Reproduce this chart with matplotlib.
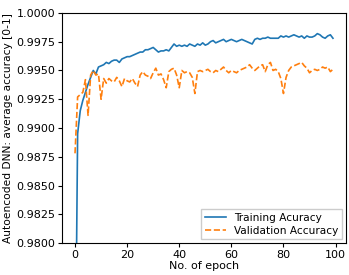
import matplotlib
matplotlib.use("Agg")
import matplotlib.pyplot as plt
import numpy as np

epochs = list(range(100))
train_acc = [0.965, 0.9895, 0.9915, 0.9924, 0.9931, 0.9938, 0.9944, 0.9950, 0.9947, 0.9953,
             0.9954, 0.9955, 0.9957, 0.9956, 0.9958, 0.9959, 0.9959, 0.9957, 0.9960, 0.9961,
             0.9962, 0.9962, 0.9963, 0.9964, 0.9965, 0.9966, 0.9966, 0.9968, 0.9968, 0.9969,
             0.9970, 0.9968, 0.9966, 0.9967, 0.9967, 0.9968, 0.9967, 0.9970, 0.9973, 0.9971,
             0.9972, 0.9971, 0.9972, 0.9971, 0.9973, 0.9972, 0.9971, 0.9973, 0.9972, 0.9974,
             0.9972, 0.9973, 0.9975, 0.9976, 0.9974, 0.9975, 0.9976, 0.9977, 0.9975, 0.9976,
             0.9977, 0.9976, 0.9975, 0.9976, 0.9977, 0.9976, 0.9975, 0.9974, 0.9973, 0.9977,
             0.9978, 0.9977, 0.9978, 0.9978, 0.9979, 0.9978, 0.9978, 0.9978, 0.9978, 0.9980,
             0.9979, 0.9980, 0.9979, 0.9980, 0.9981, 0.9980, 0.9979, 0.9980, 0.9978, 0.9980,
             0.9979, 0.9979, 0.9980, 0.9982, 0.9981, 0.9979, 0.9978, 0.9980, 0.9981, 0.9978]
val_acc = [0.9878, 0.9927, 0.9929, 0.9931, 0.9942, 0.9911, 0.9946, 0.9950, 0.9946, 0.9947,
           0.9925, 0.9943, 0.9939, 0.9943, 0.9941, 0.9940, 0.9944, 0.9941, 0.9936, 0.9943,
           0.9941, 0.9940, 0.9943, 0.9939, 0.9936, 0.9946, 0.9949, 0.9946, 0.9945, 0.9943,
           0.9948, 0.9952, 0.9946, 0.9947, 0.9942, 0.9935, 0.9949, 0.9951, 0.9952, 0.9946,
           0.9935, 0.9950, 0.9948, 0.9949, 0.9948, 0.9944, 0.9930, 0.9949, 0.9950, 0.9949,
           0.9950, 0.9951, 0.9949, 0.9948, 0.9950, 0.9949, 0.9951, 0.9953, 0.9950, 0.9948,
           0.9950, 0.9949, 0.9948, 0.9950, 0.9951, 0.9952, 0.9953, 0.9955, 0.9952, 0.9950,
           0.9952, 0.9954, 0.9955, 0.9949, 0.9955, 0.9957, 0.9950, 0.9951, 0.9949, 0.9943,
           0.9930, 0.9944, 0.9950, 0.9953, 0.9954, 0.9955, 0.9956, 0.9957, 0.9954, 0.9952,
           0.9948, 0.9950, 0.9951, 0.9950, 0.9951, 0.9953, 0.9952, 0.9953, 0.9949, 0.9951]
y_ticks = [0.9800, 0.9825, 0.9850, 0.9875, 0.9900, 0.9925, 0.9950, 0.9975, 1.0000]
x_ticks = [0, 20, 40, 60, 80, 100]

fs = 8.0
plt.rcParams['font.size'] = fs
fig = plt.figure(figsize=(3.49, 2.75), dpi=100)
ax = fig.add_axes([0.178, 0.116, 0.813, 0.837])
ax.plot(epochs, train_acc, color='#1f77b4', lw=1.2, label='Training Acuracy')
ax.plot(epochs, val_acc, color='#ff7f0e', lw=1.2, ls='--', label='Validation Accuracy')
ax.set_ylim(0.98, 1.0)
ax.set_xlim(-4.95, 103.95)
ax.set_yticks(y_ticks)
ax.set_yticklabels([f"{t:.4f}" for t in y_ticks])
ax.set_xticks(x_ticks)
ax.set_xlabel('No. of epoch', labelpad=1, fontsize=8.0)
ax.set_ylabel('Autoencoded DNN: average accuracy [0-1]', labelpad=2, fontsize=7.7)
ax.tick_params(labelsize=fs, length=3, pad=2)
ax.legend(loc='lower right', fontsize=7.6, fancybox=False, framealpha=1, edgecolor='#cccccc',
          borderpad=0.3, handlelength=2.0, labelspacing=0.3, borderaxespad=0.4)
fig.savefig('out.png', dpi=100)
